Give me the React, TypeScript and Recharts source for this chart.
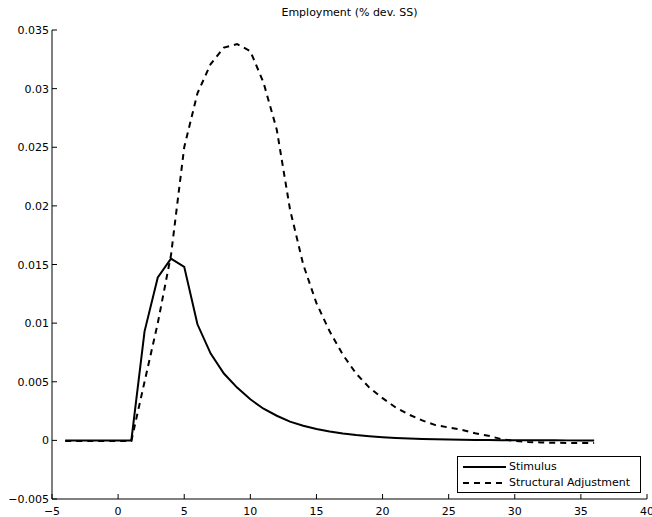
import React from 'react';
import { LineChart, Line, XAxis, YAxis, Legend } from 'recharts';

const title = 'Employment (% dev. SS)';
const seriesNames = ['Stimulus', 'Structural Adjustment'];

const periods = [
  -4, -3, -2, -1, 0, 1, 2, 3, 4, 5, 6, 7, 8, 9, 10, 11, 12, 13, 14, 15, 16,
  17, 18, 19, 20, 21, 22, 23, 24, 25, 26, 27, 28, 29, 30, 31, 32, 33, 34, 35, 36,
];

const stimulus = [
  0, 0, 0, 0, 0, 0, 0.0093, 0.0139, 0.0155, 0.0148, 0.0099, 0.0074, 0.0057,
  0.0045, 0.0035, 0.0027, 0.0021, 0.0016, 0.00125, 0.00097, 0.00075, 0.00058,
  0.00045, 0.00035, 0.00027, 0.00021, 0.00016, 0.00012, 0.00009, 0.00007,
  0.00005, 0.00004, 0.00003, 0.00002, 0.00002, 0.00001, 0.00001, 0.00001, 0, 0, 0,
];

const structural = [
  -0.00005, -0.00005, -0.00005, -0.00005, -0.00005, -0.00005, 0.005, 0.01,
  0.0158, 0.025, 0.0296, 0.0321, 0.0335, 0.0338, 0.0332, 0.0305, 0.0265,
  0.0197, 0.015, 0.0117, 0.0093, 0.0073, 0.0057, 0.0045, 0.0036, 0.0028,
  0.0022, 0.0017, 0.0013, 0.0011, 0.0009, 0.0006, 0.0004, 0.0001, -0.00005,
  -0.00013, -0.00018, -0.0002, -0.00022, -0.00023, -0.00023,
];

const xTicks = [-5, 0, 5, 10, 15, 20, 25, 30, 35, 40];
const xTickLabels = ['\u22125', '0', '5', '10', '15', '20', '25', '30', '35', '40'];
const yTicks = [-0.005, 0, 0.005, 0.01, 0.015, 0.02, 0.025, 0.03, 0.035];
const yTickLabels = ['\u22120.005', '0', '0.005', '0.01', '0.015', '0.02', '0.025', '0.03', '0.035'];

const data = periods.map((t, i) => ({ t, stimulus: stimulus[i], structural: structural[i] }));

const FONT = '"DejaVu Sans", "Liberation Sans", Arial, sans-serif';
const TICK = 5;

const labelFor = (ticks: number[], labels: string[], v: number) => {
  let best = 0;
  for (let i = 0; i < ticks.length; i++) {
    if (Math.abs(ticks[i] - v) < Math.abs(ticks[best] - v)) best = i;
  }
  return labels[best];
};

const BottomTick = (props: any) => {
  const { x, y, payload } = props;
  return (
    <g>
      <line x1={x} y1={y} x2={x} y2={y - TICK} stroke="#000" strokeWidth={1} />
      <text x={x} y={y + 16} textAnchor="middle" fontFamily={FONT} fontSize={11} fill="#000">
        {labelFor(xTicks, xTickLabels, payload.value)}
      </text>
    </g>
  );
};

const TopTick = (props: any) => {
  const { x, y } = props;
  return <line x1={x} y1={y} x2={x} y2={y + TICK} stroke="#000" strokeWidth={1} />;
};

const LeftTick = (props: any) => {
  const { x, y, payload } = props;
  return (
    <g>
      <line x1={x} y1={y} x2={x + TICK} y2={y} stroke="#000" strokeWidth={1} />
      <text x={x - 3} y={y + 4} textAnchor="end" fontFamily={FONT} fontSize={11} fill="#000">
        {labelFor(yTicks, yTickLabels, payload.value)}
      </text>
    </g>
  );
};

const RightTick = (props: any) => {
  const { x, y } = props;
  return <line x1={x} y1={y} x2={x - TICK} y2={y} stroke="#000" strokeWidth={1} />;
};

const LegendBox = () => (
  <div
    style={{
      width: 182,
      height: 35,
      border: '1px solid #000',
      background: '#fff',
      fontFamily: FONT,
      fontSize: 11,
      color: '#000',
      position: 'relative',
    }}
  >
    {seriesNames.map((name, i) => (
      <div
        key={name}
        style={{ position: 'absolute', left: 0, top: 3 + i * 16, height: 14, display: 'flex', alignItems: 'center', whiteSpace: 'nowrap' }}
      >
        <svg width={50} height={14} style={{ display: 'block' }}>
          <line
            x1={5}
            y1={7}
            x2={48}
            y2={7}
            stroke="#000"
            strokeWidth={2}
            strokeDasharray={i === 1 ? '6 5' : undefined}
          />
        </svg>
        <span style={{ marginLeft: 1, lineHeight: '14px' }}>{name}</span>
      </div>
    ))}
  </div>
);

export default function App() {
  return (
    <div style={{ position: 'absolute', left: 0, top: 0, width: 652, height: 517, background: '#fff' }}>
      <div
        style={{
          position: 'absolute',
          left: 52,
          width: 595,
          top: 6,
          textAlign: 'center',
          fontFamily: FONT,
          fontSize: 11,
          lineHeight: '14px',
          color: '#000',
        }}
      >
        {title}
      </div>
      <LineChart width={652} height={517} data={data} margin={{ top: 30, right: 5, bottom: 0, left: 0 }}>
        <XAxis
          xAxisId="bottom"
          dataKey="t"
          type="number"
          domain={[-5, 40]}
          ticks={xTicks}
          interval={0}
          height={18}
          tickSize={0}
          tickMargin={0}
          tickLine={false}
          axisLine={{ stroke: '#000', strokeWidth: 1 }}
          tick={<BottomTick />}
          allowDataOverflow
        />
        <XAxis
          xAxisId="top"
          orientation="top"
          dataKey="t"
          type="number"
          domain={[-5, 40]}
          ticks={xTicks}
          interval={0}
          height={0}
          tickSize={0}
          tickMargin={0}
          tickLine={false}
          axisLine={{ stroke: '#000', strokeWidth: 1 }}
          tick={<TopTick />}
          allowDataOverflow
        />
        <YAxis
          yAxisId="left"
          type="number"
          domain={[-0.005, 0.035]}
          ticks={yTicks}
          interval={0}
          width={52}
          tickSize={0}
          tickMargin={0}
          tickLine={false}
          axisLine={{ stroke: '#000', strokeWidth: 1 }}
          tick={<LeftTick />}
          allowDataOverflow
        />
        <YAxis
          yAxisId="right"
          orientation="right"
          type="number"
          domain={[-0.005, 0.035]}
          ticks={yTicks}
          interval={0}
          width={0}
          tickSize={0}
          tickMargin={0}
          tickLine={false}
          axisLine={{ stroke: '#000', strokeWidth: 1 }}
          tick={<RightTick />}
          allowDataOverflow
        />
        <Line
          xAxisId="bottom"
          yAxisId="left"
          type="linear"
          dataKey="stimulus"
          name={seriesNames[0]}
          stroke="#000"
          strokeWidth={2}
          dot={false}
          activeDot={false}
          isAnimationActive={false}
        />
        <Line
          xAxisId="bottom"
          yAxisId="left"
          type="linear"
          dataKey="structural"
          name={seriesNames[1]}
          stroke="#000"
          strokeWidth={2}
          strokeDasharray="6 5"
          dot={false}
          activeDot={false}
          isAnimationActive={false}
        />
        <Legend
          layout="horizontal"
          verticalAlign="middle"
          align="center"
          wrapperStyle={{ position: 'absolute', left: 457, top: 456, width: 184, height: 37 }}
          content={() => <LegendBox />}
        />
      </LineChart>
    </div>
  );
}
